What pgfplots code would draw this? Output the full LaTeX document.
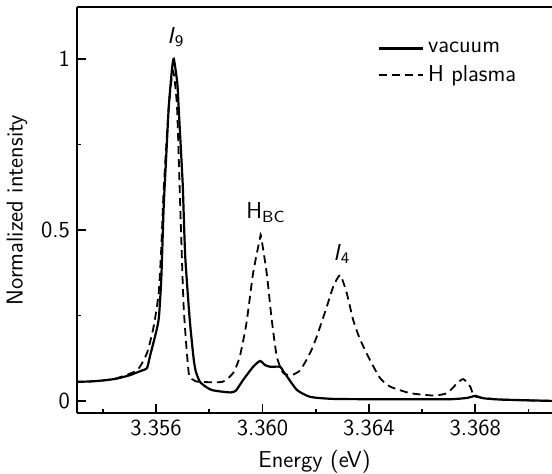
\documentclass[border=0pt]{standalone}
\usepackage{pgfplots}
\pgfplotsset{compat=1.18}
\newcommand{\lbl}{\fontsize{11.5}{13}\selectfont\sffamily}
\begin{document}
\begin{tikzpicture}
\path[use as bounding box] (0,0) rectangle (276pt,237pt);
\begin{axis}[
  at={(38.5pt,30.5pt)}, anchor=south west,
  scale only axis, width=237.5pt, height=203pt,
  xmin=3.353031, xmax=3.370882, ymin=-0.0351, ymax=1.152,
  axis x line=box, axis y line=left,
  axis line style={-, line width=1pt},
  xtick pos=left, ytick pos=left,
  tick align=inside,
  xtick={3.356,3.360,3.364,3.368},
  xticklabels={3.356,3.360,3.364,3.368},
  minor xtick={3.354,3.358,3.362,3.366,3.370},
  ytick={0,0.5,1}, yticklabels={0,0.5,1},
  minor ytick={0.25,0.75},
  major tick length=4.5pt, minor tick length=2.2pt,
  tick style={line width=0.9pt, black},
  ticklabel style={font=\lbl},
  /pgf/number format/assume math mode=true,
  xlabel={Energy (eV)}, ylabel={Normalized intensity},
  label style={font=\lbl},
  legend style={draw=none, fill=none, at={(0.62,0.935)}, anchor=north west, font=\lbl, row sep=1pt},
  legend cell align=left,
  legend image code/.code={\draw[#1] (0pt,0pt) -- (22pt,0pt);},
]
\addplot[black, line width=1.1pt, smooth, tension=0.35] coordinates {
(3.3530,0.056) (3.3535,0.057) (3.3540,0.060) (3.3545,0.065) (3.3550,0.075)
(3.3554,0.087) (3.35566,0.096) (3.35577,0.13) (3.3560,0.20) (3.35611,0.245)
(3.3562,0.36) (3.35629,0.57) (3.3564,0.74) (3.35648,0.86) (3.3566,0.97)
(3.35667,1.00) (3.3568,0.93) (3.35685,0.86) (3.3570,0.64) (3.35704,0.55)
(3.3571,0.42) (3.35723,0.275) (3.3573,0.21) (3.35742,0.12) (3.3575,0.085)
(3.35765,0.056) (3.3579,0.040) (3.3581,0.032) (3.3584,0.028) (3.3588,0.025)
(3.3590,0.030) (3.35927,0.061) (3.35965,0.10) (3.35991,0.117) (3.3601,0.105)
(3.3603,0.10) (3.36066,0.10) (3.3608,0.085) (3.36093,0.071) (3.3613,0.032)
(3.3618,0.012) (3.3627,0.006) (3.3650,0.005) (3.3670,0.005) (3.3677,0.009)
(3.3680,0.015) (3.3683,0.008) (3.3690,0.004) (3.3710,0.000)
};
\addlegendentry{vacuum}
\addplot[black, line width=0.9pt, dash pattern=on 4pt off 2.5pt, smooth, tension=0.35] coordinates {
(3.3530,0.056) (3.3535,0.057) (3.3540,0.060) (3.3545,0.066) (3.35529,0.09)
(3.35566,0.14) (3.35591,0.217) (3.35610,0.315) (3.3562,0.45) (3.35629,0.62)
(3.35648,0.86) (3.35664,0.965) (3.35679,0.86) (3.35691,0.57) (3.35704,0.275)
(3.35723,0.082) (3.35742,0.061) (3.3576,0.056) (3.3585,0.056) (3.35890,0.082)
(3.35915,0.13) (3.3594,0.228) (3.35965,0.374) (3.35991,0.477) (3.35995,0.48)
(3.36016,0.374) (3.36035,0.237) (3.36054,0.13) (3.36078,0.082) (3.3611,0.076)
(3.36142,0.09) (3.36179,0.14) (3.36204,0.188) (3.36242,0.276) (3.36266,0.334)
(3.36292,0.368) (3.36317,0.315) (3.36341,0.237) (3.36367,0.18) (3.36404,0.12)
(3.36442,0.067) (3.36480,0.042) (3.36555,0.023) (3.36642,0.016) (3.36694,0.023)
(3.36732,0.052) (3.36755,0.064) (3.36781,0.042) (3.36800,0.013) (3.3690,0.004)
(3.3710,0.000)
};
\addlegendentry{H plasma}
\node[font=\lbl] at (axis cs:3.35675,1.064) {\textit{I}\textsubscript{9}};
\node[font=\lbl] at (axis cs:3.36013,0.55) {H\textsubscript{BC}};
\node[font=\lbl] at (axis cs:3.36299,0.43) {\textit{I}\textsubscript{4}};
\end{axis}
\end{tikzpicture}
\end{document}
